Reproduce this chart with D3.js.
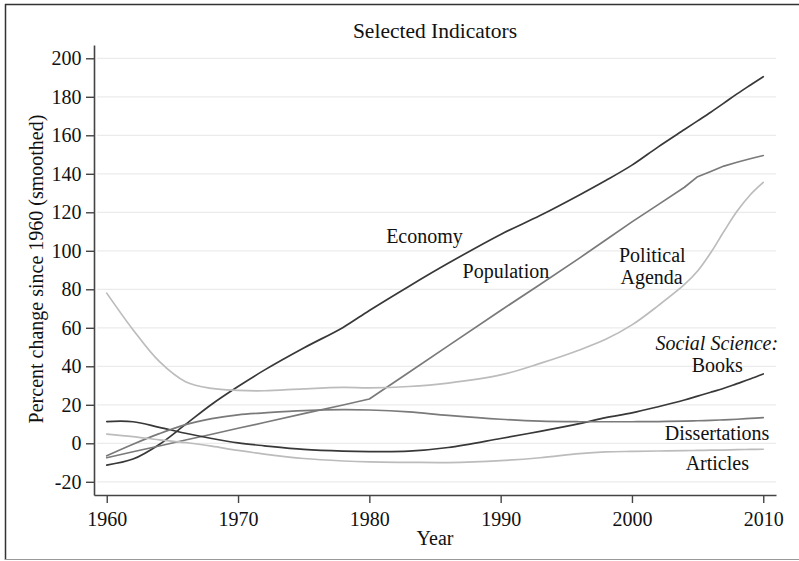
<!DOCTYPE html>
<html>
<head>
<meta charset="utf-8">
<script src="https://cdn.jsdelivr.net/npm/d3@7/dist/d3.min.js"></script>
<style>
  html, body { margin: 0; padding: 0; background: #fff; }
  svg { display: block; }
  text { font-family: "Liberation Serif", "Times New Roman", serif; fill: #111; }
</style>
</head>
<body>
<svg id="chart" width="799" height="561"></svg>
<script>
// Sample years shared by all series
const years = [1960, 1962, 1964, 1966, 1968, 1970, 1972, 1975, 1978, 1980, 1983, 1986,
               1990, 1993, 1996, 1998, 2000, 2002, 2004, 2005, 2006, 2007, 2008, 2009, 2010];

// Percent change since 1960 (smoothed), one array per indicator
const economy       = [-11.3, -8.2, -0.6, 9.8, 20.3, 29.5, 38, 49.5, 60.2, 69, 81.5, 93.5,
                       108.5, 118.3, 129, 136.5, 144.5, 154, 163, 167.5, 172, 176.7, 181.5, 186, 190.4];
const population    = [-7.5, -4.4, -1.4, 1.7, 4.7, 7.8, 10.8, 15.4, 19.9, 23, 36.8, 50.6,
                       69, 82.5, 96.2, 105.6, 115, 124, 133, 138.5, 141.2, 144, 146, 147.8, 149.5];
const agenda        = [78, 59, 42.5, 32, 28.5, 27.5, 27.3, 28.3, 29, 28.8, 29.5, 31.3,
                       35.5, 41.5, 48.5, 54, 61.5, 71.5, 82.5, 89.5, 99, 110, 120.5, 129, 135.5];
const books         = [11.3, 11.2, 8.3, 5.2, 2.5, 0.2, -1.3, -3.2, -4.1, -4.3, -4.1, -2.2,
                       2.5, 6.2, 10.2, 13.3, 15.8, 19, 22.5, 24.5, 26.5, 28.6, 31, 33.4, 36];
const dissertations = [-6.5, -0.5, 5, 9.7, 12.8, 14.8, 15.8, 17, 17.5, 17.3, 16.3, 14.5,
                       12.5, 11.5, 11.2, 11.2, 11.2, 11.3, 11.5, 11.7, 11.9, 12.2, 12.5, 12.9, 13.3];
const articles      = [4.8, 3.5, 1.8, 0.4, -1.5, -3.7, -5.6, -7.9, -9.2, -9.7, -9.9, -10,
                       -9, -7.5, -5.4, -4.5, -4.2, -4, -3.8, -3.7, -3.6, -3.5, -3.3, -3.2, -3.1];

// Axis ticks
const xTicks = [1960, 1970, 1980, 1990, 2000, 2010];
const yTicks = [-20, 0, 20, 40, 60, 80, 100, 120, 140, 160, 180, 200];

// In-plot labels, anchored in data units (year, value)
const labelText   = ["Economy", "Population", "Political", "Agenda", "Social Science:", "Books", "Dissertations", "Articles"];
const labelYear   = [1984.2, 1990.4, 2001.55, 2001.5, 2006.46, 2006.5, 2006.48, 2006.5];
const labelValue  = [103.9, 86, 94.0, 82.8, 48.5, 37.2, 1.7, -13.9];
const labelItalic = [false, false, false, false, true, false, false, false];

const svg = d3.select("#chart");
const W = 799, H = 561;
const plot = { left: 94, right: 776, top: 45, bottom: 495 };

const x = d3.scaleLinear().domain([1959.03, 2010.97]).range([plot.left, plot.right]);
const y = d3.scaleLinear().domain([-26.86, 206.9]).range([plot.bottom, plot.top]);

// Outer graph frame
svg.append("line").attr("x1", 5).attr("x2", W).attr("y1", 4.5).attr("y2", 4.5)
  .attr("stroke", "#333").attr("stroke-width", 1.5);
svg.append("line").attr("x1", 5.5).attr("x2", 5.5).attr("y1", 4).attr("y2", 560)
  .attr("stroke", "#333").attr("stroke-width", 1.5);
svg.append("line").attr("x1", 5).attr("x2", W).attr("y1", 559.5).attr("y2", 559.5)
  .attr("stroke", "#999").attr("stroke-width", 1.2);

// Horizontal gridlines
svg.append("g").selectAll("line").data(yTicks).join("line")
  .attr("x1", plot.left + 3).attr("x2", plot.right)
  .attr("y1", d => y(d)).attr("y2", d => y(d))
  .attr("stroke", "#ebebeb").attr("stroke-width", 1.2);

// Axes (plain hyphen for negatives)
const fmt = d => String(d);
const yAxis = svg.append("g").attr("transform", `translate(${plot.left},0)`)
  .call(d3.axisLeft(y).tickValues(yTicks).tickSize(8).tickSizeOuter(0).tickPadding(4.5).tickFormat(fmt));
const xAxis = svg.append("g").attr("transform", `translate(0,${plot.bottom})`)
  .call(d3.axisBottom(x).tickValues(xTicks).tickSize(8).tickSizeOuter(0).tickPadding(9).tickFormat(fmt));
[yAxis, xAxis].forEach(g => {
  g.select(".domain").attr("stroke", "#444").attr("stroke-width", 1.6);
  g.selectAll(".tick line").attr("stroke", "#444").attr("stroke-width", 1.4);
  g.selectAll(".tick text").attr("font-size", 20).attr("fill", "#111")
    .style("font-family", '"Liberation Serif", "Times New Roman", serif');
});

// Series lines
const smooth = d3.curveCatmullRom.alpha(0.5);
const series = [
  { values: economy,       color: "#383838", curve: smooth },
  { values: population,    color: "#7a7a7a", curve: d3.curveLinear },
  { values: agenda,        color: "#bcbcbc", curve: smooth },
  { values: books,         color: "#383838", curve: smooth },
  { values: dissertations, color: "#7a7a7a", curve: smooth },
  { values: articles,      color: "#bcbcbc", curve: smooth }
];
const lines = svg.append("g").attr("fill", "none");
series.forEach(s => {
  const line = d3.line().x((d, i) => x(years[i])).y(d => y(d)).curve(s.curve);
  lines.append("path").datum(s.values)
    .attr("d", line)
    .attr("stroke", s.color).attr("stroke-width", 1.7)
    .attr("stroke-linejoin", "round").attr("stroke-linecap", "round");
});

// In-plot labels
svg.append("g").selectAll("text").data(labelText).join("text")
  .attr("x", (d, i) => x(labelYear[i]))
  .attr("y", (d, i) => y(labelValue[i]))
  .attr("text-anchor", "middle")
  .attr("font-size", 20)
  .attr("font-style", (d, i) => labelItalic[i] ? "italic" : "normal")
  .text(d => d);

// Titles
svg.append("text").attr("x", 435).attr("y", 37.5).attr("text-anchor", "middle")
  .attr("font-size", 21.5).text("Selected Indicators");
svg.append("text").attr("x", 435).attr("y", 545).attr("text-anchor", "middle")
  .attr("font-size", 20).text("Year");
svg.append("text")
  .attr("transform", `translate(42.5,269) rotate(-90)`)
  .attr("text-anchor", "middle").attr("font-size", 20)
  .text("Percent change since 1960 (smoothed)");
</script>
</body>
</html>
